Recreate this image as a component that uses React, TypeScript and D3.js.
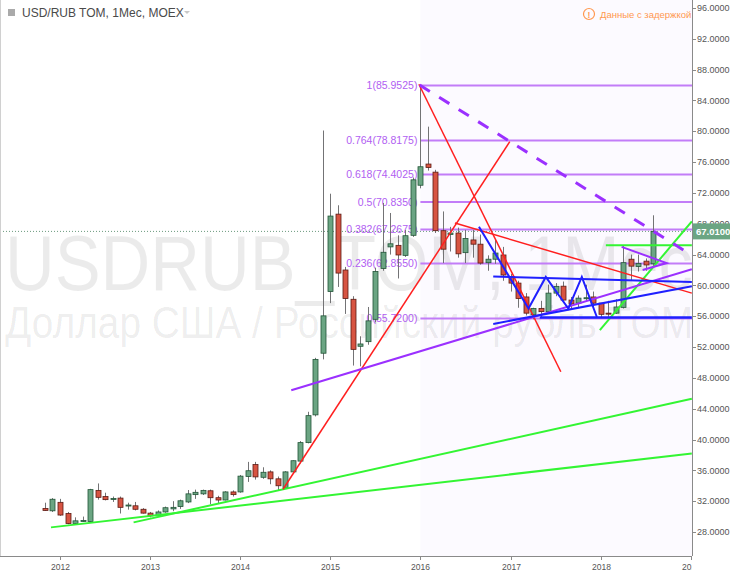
import React from "react";
import * as d3 from "d3";

// monthly candles, USD/RUB TOM (MOEX)
const months = [
  "2011-11", "2011-12",
  "2012-01", "2012-02", "2012-03", "2012-04", "2012-05", "2012-06", "2012-07", "2012-08", "2012-09", "2012-10", "2012-11", "2012-12",
  "2013-01", "2013-02", "2013-03", "2013-04", "2013-05", "2013-06", "2013-07", "2013-08", "2013-09", "2013-10", "2013-11", "2013-12",
  "2014-01", "2014-02", "2014-03", "2014-04", "2014-05", "2014-06", "2014-07", "2014-08", "2014-09", "2014-10", "2014-11", "2014-12",
  "2015-01", "2015-02", "2015-03", "2015-04", "2015-05", "2015-06", "2015-07", "2015-08", "2015-09", "2015-10", "2015-11", "2015-12",
  "2016-01", "2016-02", "2016-03", "2016-04", "2016-05", "2016-06", "2016-07", "2016-08", "2016-09", "2016-10", "2016-11", "2016-12",
  "2017-01", "2017-02", "2017-03", "2017-04", "2017-05", "2017-06", "2017-07", "2017-08", "2017-09", "2017-10", "2017-11", "2017-12",
  "2018-01", "2018-02", "2018-03", "2018-04", "2018-05", "2018-06", "2018-07", "2018-08",
];
const opens = [
  31.05, 30.75,
  31.85, 30.4, 29.1, 29.4, 29.35, 33.4, 32.6, 32.25, 32.4, 31.4, 31.4, 30.95,
  30.45, 30.1, 30.6, 31.0, 31.3, 31.9, 32.85, 32.95, 33.35, 32.45, 32.15, 33.2,
  33.2, 35.2, 36.75, 35.1, 35.8, 34.9, 33.7, 35.8, 37.2, 39.6, 43.2, 51.2,
  59.2, 69.25, 62.0, 58.2, 52.1, 52.7, 55.6, 62.2, 65.0, 65.2, 63.9, 66.5,
  73.0, 75.75, 74.7, 67.1, 66.6, 66.8, 64.25, 65.9, 65.35, 62.95, 63.4, 63.95,
  61.15, 60.3, 58.5, 56.2, 57.0, 56.6, 59.0, 59.9, 58.1, 57.7, 58.4, 58.5,
  57.7, 56.4, 56.4, 57.15, 63.4, 62.45, 63.15, 62.8,
];
const highs = [
  31.8, 32.4,
  32.3, 30.6, 29.9, 30.0, 33.6, 34.3, 33.1, 32.6, 32.6, 31.8, 31.9, 31.1,
  30.6, 30.8, 31.3, 32.0, 32.2, 33.45, 33.5, 33.5, 33.5, 32.7, 33.3, 33.4,
  35.4, 37.1, 37.1, 36.4, 36.0, 35.2, 35.9, 37.3, 39.8, 43.6, 50.6, 80.1,
  71.9, 70.4, 62.4, 58.6, 53.4, 57.2, 62.3, 70.7, 69.4, 66.5, 67.2, 74.0,
  85.95, 80.6, 75.0, 69.6, 67.6, 67.5, 67.2, 67.2, 66.6, 63.9, 66.0, 65.0,
  61.5, 60.6, 59.0, 57.1, 58.0, 60.1, 60.3, 60.5, 58.5, 58.7, 60.1, 59.2,
  57.7, 58.0, 58.2, 65.1, 64.0, 64.0, 63.5, 69.1,
];
const lows = [
  30.75, 30.6,
  30.1, 29.0, 29.0, 29.3, 29.3, 32.2, 32.1, 31.9, 30.4, 30.9, 30.8, 30.4,
  29.9, 30.0, 30.5, 30.7, 31.0, 31.75, 32.3, 32.8, 31.6, 31.7, 32.1, 32.6,
  33.1, 34.5, 34.8, 34.9, 34.2, 33.45, 33.6, 35.7, 36.9, 39.5, 43.0, 50.4,
  57.7, 59.8, 56.3, 49.6, 49.5, 52.3, 55.2, 61.9, 64.0, 60.9, 63.7, 66.3,
  72.6, 74.9, 66.8, 62.9, 64.4, 63.6, 62.9, 63.6, 62.7, 61.9, 62.8, 60.6,
  59.2, 57.1, 56.1, 55.6, 55.8, 56.5, 58.6, 58.0, 56.9, 57.1, 57.9, 56.9,
  55.9, 55.7, 56.3, 57.0, 60.7, 61.8, 61.9, 62.5,
];
const closes = [
  30.8, 32.25,
  30.2, 29.1, 29.45, 29.5, 33.5, 32.5, 32.2, 32.35, 31.2, 31.5, 30.95, 30.45,
  30.1, 30.6, 31.15, 31.2, 32.05, 32.95, 33.15, 33.4, 32.45, 32.15, 33.2, 32.85,
  35.25, 35.95, 35.15, 35.75, 34.9, 34.0, 35.8, 37.25, 39.6, 43.1, 50.4, 56.05,
  69.0, 61.6, 58.3, 51.7, 52.4, 55.4, 61.8, 64.3, 65.4, 63.95, 66.45, 73.7,
  75.4, 75.3, 67.1, 64.7, 66.8, 64.1, 66.1, 65.35, 62.9, 63.4, 64.2, 61.35,
  60.3, 58.3, 56.4, 57.0, 56.6, 59.0, 59.85, 58.1, 57.6, 58.35, 58.4, 57.7,
  56.25, 56.35, 57.2, 62.95, 62.5, 62.85, 62.65, 67.01,
];
const lastPrice = 67.01;

const yearTicks = [2012, 2013, 2014, 2015, 2016, 2017, 2018, 2019];
const priceTicks = [28, 32, 36, 40, 44, 48, 52, 56, 60, 64, 68, 72, 76, 80, 84, 88, 92, 96];

// fibonacci retracement from the Jan 2016 high
const fibRatios = ["1", "0.764", "0.618", "0.5", "0.382", "0.236", "0"];
const fibValues = [85.9525, 78.8175, 74.4025, 70.835, 67.2675, 62.855, 55.72];
const fibStart = "2016-01";

// trend lines: [month index, price] pairs (month 0 = Jan 2012)
const greenLines = [
  [[-1.2, 28.6], [84.15, 38.2]],
  [[9.8, 29.25], [84.15, 45.3]],
  [[71.9, 54.2], [84.15, 68.3]],
  [[72.7, 65.2], [84.15, 65.2]],
];
const redLines = [
  [[29.7, 33.55], [59.9, 78.65]],
  [[47.8, 86.1], [66.7, 48.8]],
  [[52.6, 68.1], [84.15, 59.0]],
];
const purpleLines = [
  [[30.8, 46.4], [84.15, 62.1]],
  [[74.8, 65.0], [80.8, 62.9], [77.6, 62.0]],
];
const purpleDashed = [[47.9, 86.0], [83.2, 64.5]];
const blueLines = [
  [[55.8, 67.6], [62.4, 57.0], [64.7, 61.1], [67.7, 57.0], [69.5, 61.1], [71.5, 55.9]],
  [[57.7, 61.15], [84.15, 60.45]],
  [[57.7, 55.0], [84.15, 59.9]],
  [[63.9, 55.85], [84.15, 55.85]],
];

const W = 730;
const H = 575;
const plotRight = 692;
const plotBottom = 556;

const monthIndex = (s: string) => {
  const [y, m] = s.split("-").map(Number);
  return (y - 2012) * 12 + (m - 1);
};

export default function App() {
  const x = d3.scaleLinear([0, 12], [60, 150.1]);
  const y = d3.scaleLinear([96, 28], [8, 532]);

  const line = d3.line<number[]>().x((d) => x(d[0])).y((d) => y(d[1]));
  const fibX = x(monthIndex(fibStart));
  const bw = 5;

  const font = "'Liberation Sans', Arial, sans-serif";

  return (
    <div style={{ position: "fixed", left: 0, top: 0, background: "#fff" }}>
      <svg width={W} height={H} style={{ display: "block", fontFamily: font }}>
        <defs>
          <clipPath id="plot">
            <rect x={0} y={0} width={plotRight} height={plotBottom} />
          </clipPath>
        </defs>
        <rect x={0} y={0} width={W} height={H} fill="#fff" />
        <rect x={fibX} y={0} width={plotRight - fibX} height={plotBottom} fill="#8e24ff" fillOpacity={0.025} />

        {/* watermark */}
        <text x={5} y={290} fontSize={78} fill="#000" fillOpacity={0.08} textLength={688} lengthAdjust="spacingAndGlyphs">
          USDRUB_TOM, 1Мес
        </text>
        <text x={5} y={338} fontSize={44} fill="#000" fillOpacity={0.08} textLength={688} lengthAdjust="spacingAndGlyphs">
          Доллар США / Российский рубль TOM
        </text>

        <g clipPath="url(#plot)">
          {/* fib levels */}
          {fibValues.map((v, i) => (
            <g key={i}>
              <line x1={fibX} x2={plotRight} y1={y(v)} y2={y(v)} stroke="#c27cf8" strokeWidth={2} />
              <text x={fibX - 3} y={y(v)} dy="0.35em" textAnchor="end" fontSize={10.5} fill="#b160f2">
                {fibRatios[i]}({v.toFixed(4)})
              </text>
            </g>
          ))}

          {/* last price line */}
          <line x1={0} x2={plotRight} y1={y(lastPrice)} y2={y(lastPrice)} stroke="#6b9a7e" strokeDasharray="1,2" />

          {/* candles */}
          {months.map((mo, i) => {
            const cx = Math.round(x(monthIndex(mo))) + 0.5;
            const up = closes[i] >= opens[i];
            const top = y(Math.max(opens[i], closes[i]));
            const bot = y(Math.min(opens[i], closes[i]));
            return (
              <g key={mo}>
                <line x1={cx} x2={cx} y1={y(highs[i])} y2={y(lows[i])} stroke="#737375" />
                <rect
                  x={cx - bw / 2}
                  y={top}
                  width={bw}
                  height={Math.max(1, bot - top)}
                  fill={up ? "#6ba583" : "#d75442"}
                  stroke={up ? "#225437" : "#5b1a13"}
                  strokeWidth={0.8}
                />
              </g>
            );
          })}

          {/* drawings */}
          {greenLines.map((l, i) => (
            <path key={"g" + i} d={line(l)!} fill="none" stroke="#33f533" strokeWidth={2} />
          ))}
          {redLines.map((l, i) => (
            <path key={"r" + i} d={line(l)!} fill="none" stroke="#ff1f1f" strokeWidth={1.5} />
          ))}
          {purpleLines.map((l, i) => (
            <path key={"p" + i} d={line(l)!} fill="none" stroke="#9b30ff" strokeWidth={2} />
          ))}
          <path d={line(purpleDashed)!} fill="none" stroke="#9b30ff" strokeWidth={3} strokeDasharray="12,11" />
          {blueLines.map((l, i) => (
            <path key={"b" + i} d={line(l)!} fill="none" stroke="#1f1fff" strokeWidth={i === 3 ? 2.5 : 2} />
          ))}
        </g>

        {/* axes */}
        <line x1={plotRight + 0.5} x2={plotRight + 0.5} y1={0} y2={plotBottom} stroke="#8a8a8a" />
        <line x1={0} x2={plotRight} y1={plotBottom + 0.5} y2={plotBottom + 0.5} stroke="#8a8a8a" />
        <line x1={0.5} x2={0.5} y1={0} y2={plotBottom} stroke="#d0d0d0" />
        {priceTicks.map((t) => (
          <g key={t}>
            <line x1={plotRight} x2={plotRight + 4} y1={Math.round(y(t)) + 0.5} y2={Math.round(y(t)) + 0.5} stroke="#8a8a8a" />
            <text x={plotRight + 5} y={y(t)} dy="0.35em" fontSize={9} fill="#555">
              {t.toFixed(4)}
            </text>
          </g>
        ))}
        <rect x={plotRight + 1} y={y(lastPrice) - 8} width={W - plotRight} height={16} fill="#6ba583" />
        <text x={plotRight + 4} y={y(lastPrice)} dy="0.35em" fontSize={9.5} fontWeight="bold" fill="#fff">
          {lastPrice.toFixed(4)}
        </text>
        <svg x={0} y={0} width={plotRight} height={H} overflow="hidden">
          {yearTicks.map((yr) => {
            const tx = Math.round(x((yr - 2012) * 12)) + 0.5;
            return (
              <g key={yr}>
                <line x1={tx} x2={tx} y1={plotBottom} y2={plotBottom + 4} stroke="#8a8a8a" />
                <text x={tx} y={570} textAnchor="middle" fontSize={8.5} fill="#555">
                  {yr}
                </text>
              </g>
            );
          })}
        </svg>

        {/* header */}
        <rect x={8} y={9} width={7} height={7} fill="#aaa" />
        <text x={22} y={17} fontSize={12} fill="#4a4a4a">
          USD/RUB TOM, 1Мес, MOEX
        </text>
        <path d="M184,11 l3,3 l3,-3 z" fill="#c8c8c8" />
        <circle cx={589} cy={14} r={5.5} fill="none" stroke="#ff9850" strokeWidth={1.2} />
        <text x={589} y={17.5} textAnchor="middle" fontSize={8.5} fontWeight="bold" fill="#ff9850">!</text>
        <text x={600} y={17.5} fontSize={9.5} fill="#ff9850">
          Данные с задержкой
        </text>
      </svg>
    </div>
  );
}
